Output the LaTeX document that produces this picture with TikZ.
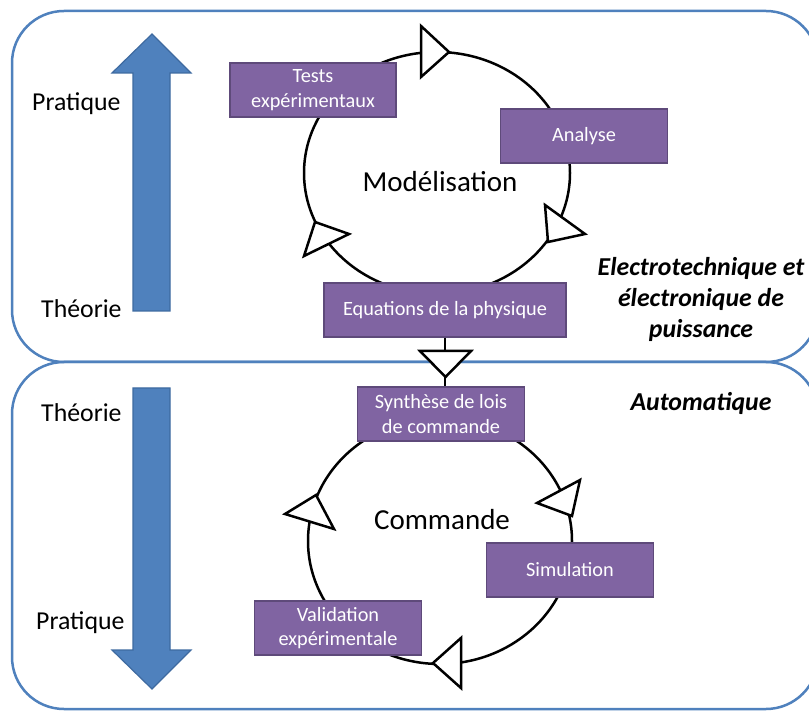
\documentclass[tikz,border=0pt]{standalone}
\usepackage{fontspec}
\setmainfont{Carlito}
\definecolor{frameblue}{HTML}{4F81BD}
\definecolor{arrowedge}{HTML}{3E6AA0}
\definecolor{boxfill}{HTML}{8064A2}
\definecolor{boxedge}{HTML}{5E4A7A}
\begin{document}
\begin{tikzpicture}[x=1pt,y=-1pt,
  framebox/.style={draw=frameblue, line width=2.5pt, rounded corners=52pt},
  bigarrow/.style={fill=frameblue, draw=arrowedge, line width=1.2pt, line join=miter},
  stepbox/.style={draw=boxedge, line width=1.5pt, fill=boxfill, text=white, minimum height=54pt, align=center, inner sep=0pt, font=\fontsize{20.3}{24.5}\selectfont},
  cycleline/.style={draw=black, line width=2.5pt},
  headtri/.style={draw=black, fill=white, line width=2.5pt, line join=miter},
  sidelabel/.style={anchor=base west, inner sep=0pt, font=\fontsize{25.8}{30}\selectfont},
  centerlabel/.style={anchor=base, inner sep=0pt, font=\fontsize{29}{34}\selectfont},
  domainlabel/.style={anchor=base, inner sep=0pt, font=\fontsize{25.8}{31}\selectfont\bfseries\itshape}]
\useasboundingbox (0,0) rectangle (809,711);
\clip (0,0) rectangle (809,711);
\fill[white] (0,0) rectangle (809,711);

% frames
\draw[framebox] (12,11) rectangle (818,362);
\draw[framebox] (12,362) rectangle (818,709);

% big arrows
\draw[bigarrow] (152,34) -- (191,73) -- (170,73) -- (170,311) -- (133,311) -- (133,73) -- (112,73) -- cycle;
\draw[bigarrow] (133,388) -- (170,388) -- (170,650) -- (191,650) -- (152,689) -- (112,650) -- (133,650) -- cycle;

% side labels
\node[sidelabel] (p1) at (32,111) {Pratique};
\node[sidelabel] (t1) at (41,318) {Théorie};
\node[sidelabel] (t2) at (41,421) {Théorie};
\node[sidelabel] (p2) at (36,629) {Pratique};

% cycles
\draw[cycleline] (437,173) ellipse [x radius=133, y radius=121];
\draw[cycleline] (440,541) ellipse [x radius=132, y radius=123];

\node[centerlabel] (mod) at (440,192) {Modélisation};
\node[centerlabel] (com) at (442,529) {Commande};

% boxes
\node[stepbox, minimum width=166pt] (tests) at (313,90) {Tests\\expérimentaux};
\node[stepbox, minimum width=167pt] (ana) at (584,136) {Analyse};
\node[stepbox, minimum width=242pt] (eq) at (445,310) {Equations de la physique};
\node[stepbox, minimum width=167pt] (syn) at (441,414) {Synthèse de lois\\de commande};
\node[stepbox, minimum width=167pt] (sim) at (570,570) {Simulation};
\node[stepbox, minimum width=167pt] (val) at (338,628) {Validation\\expérimentale};

% link between the two cycles
\draw[cycleline] (eq.south) -- (eq.south |- syn.north);

% arrowheads
\draw[headtri] (421,26) -- (449,52) -- (421,77) -- cycle;
\draw[headtri] (545,205) -- (585,234) -- (548,242) -- cycle;
\draw[headtri] (315,222) -- (349,234) -- (304,256) -- cycle;
\draw[headtri] (420,351) -- (471,351) -- (445.5,377) -- cycle;
\draw[headtri] (580,480) -- (537,503) -- (572,516) -- cycle;
\draw[headtri] (316,495) -- (285,514) -- (334,529) -- cycle;
\draw[headtri] (461,638) -- (433,663) -- (461,688) -- cycle;

% domain labels
\node[domainlabel] (d1) at (701,276) {Electrotechnique et};
\node[domainlabel] (d2) at (701,307) {électronique de};
\node[domainlabel] (d3) at (701,338) {puissance};
\node[domainlabel] (d4) at (701,410) {Automatique};
\end{tikzpicture}
\end{document}
